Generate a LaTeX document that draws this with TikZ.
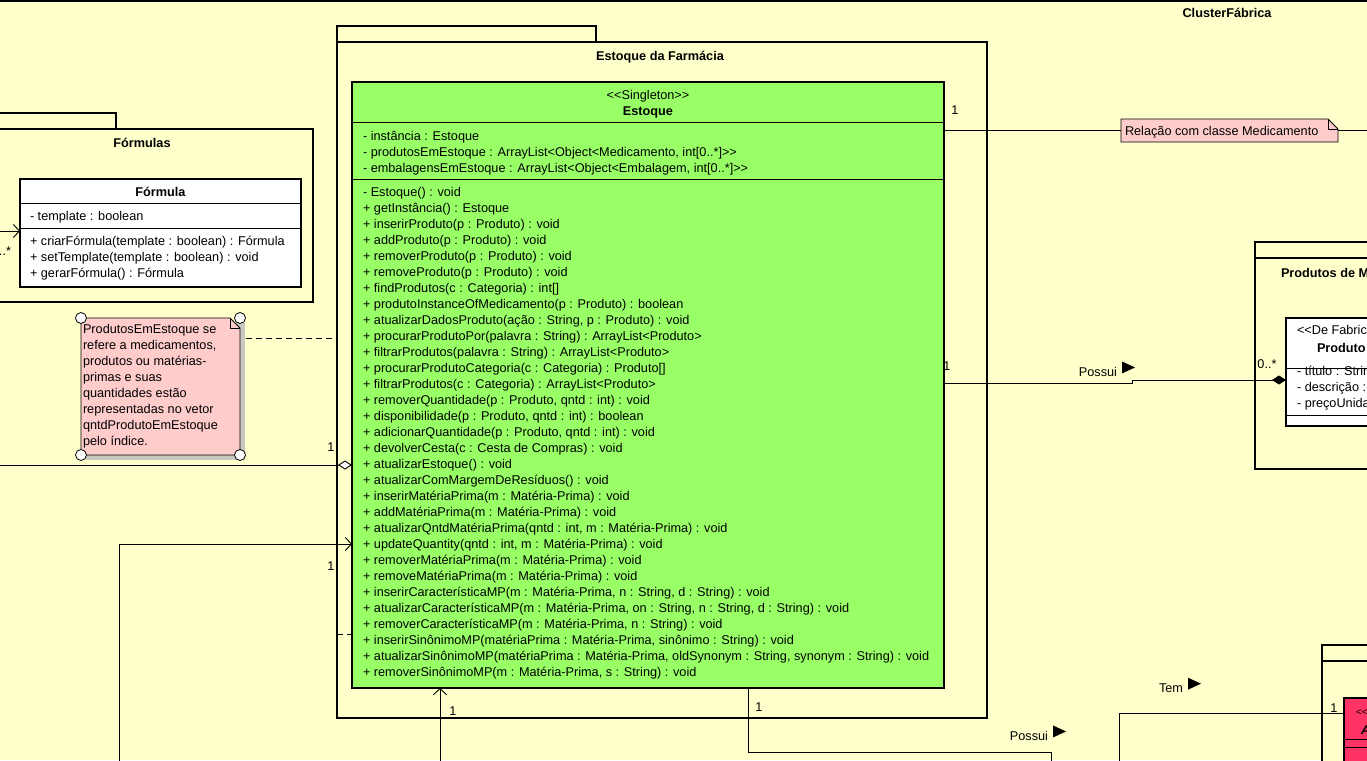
\documentclass[tikz,border=0pt]{standalone}
\usepackage{fontspec}
\setmainfont{Liberation Sans}
\usetikzlibrary{arrows.meta}
\definecolor{bg}{HTML}{FFFFCC}
\definecolor{grn}{HTML}{99FF66}
\definecolor{notec}{HTML}{FFCCCC}
\definecolor{redc}{HTML}{FF3366}
\definecolor{shad}{HTML}{C8C8C0}
\newcommand\umlfont{\fontsize{12.7}{16}\selectfont}
\begin{document}
\begin{tikzpicture}[x=1pt,y=-1pt,
  every node/.style={font=\umlfont, inner sep=0pt, outer sep=0pt},
  txt/.style={anchor=base west},
  ctxt/.style={anchor=base},
  bold/.style={font=\umlfont\bfseries},
  pkgbox/.style={draw, line width=2.4pt, fill=bg, anchor=north west},
  clsbox/.style={draw, line width=2pt, anchor=north west},
  conn/.style={line width=0.9pt},
  openarr/.style={-{Straight Barb[length=6pt,width=13pt,line width=0.9pt]}},
  hdiam/.style={-{Diamond[length=14pt,width=9pt,fill=white,line width=0.9pt]}},
  fdiam/.style={-{Diamond[length=14pt,width=9pt]}},
  tri/.pic={\fill (0,-6) -- (0,6) -- (13,0) -- cycle;},
  handle/.style={circle, draw, fill=white, line width=0.8pt, minimum size=11pt}
]
\clip (0,0) rectangle (1367,760);
\fill[bg] (0,0) rectangle (1367,760);
\draw[line width=2.4pt] (0,0.5) -- (1367,0.5);
\node[bold, ctxt] (cluster) at (1227,18) {ClusterFábrica};

% ---------- Fórmulas package
\node[pkgbox, minimum width=136, minimum height=16] (ftab) at (-20,113) {};
\node[pkgbox, minimum width=333, minimum height=173] (fpkg) at (-20,129) {};
\node[bold, ctxt] (ftitle) at (142,147) {Fórmulas};
\node[clsbox, fill=white, minimum width=281, minimum height=108] (fcls) at (20,179) {};
\draw[conn] (fcls.west |- 0,203) -- (fcls.east |- 0,203);
\draw[conn] (fcls.west |- 0,228) -- (fcls.east |- 0,228);
\node[bold, ctxt] (fname) at (160.5,196) {Fórmula};
\node[txt] (fa1) at (30,220) {- template : boolean};
\node[txt] (fm1) at (30,245) {+ criarFórmula(template : boolean) : Fórmula};
\node[txt] (fm2) at (30,261) {+ setTemplate(template : boolean) : void};
\node[txt] (fm3) at (30,277) {+ gerarFórmula() : Fórmula};
\coordinate (fin) at (-5,231);
\draw[conn, openarr] (fin) -- (fin -| fcls.west);
\node[anchor=base east] (fmult) at (11,255) {0..*};

% ---------- Estoque da Farmácia package
\node[pkgbox, minimum width=259, minimum height=16] (etab) at (337,26) {};
\node[pkgbox, minimum width=650, minimum height=676] (epkg) at (337,42) {};
\node[bold, ctxt] (etitle) at (660,60) {Estoque da Farmácia};
\node[clsbox, fill=grn, minimum width=592, minimum height=606] (est) at (352,82) {};
\draw[conn] (est.west |- 0,122) -- (est.east |- 0,122);
\draw[conn] (est.west |- 0,179) -- (est.east |- 0,179);
\node[ctxt] (estst) at (648,99) {<{}<Singleton>{}>};
\node[bold, ctxt] (estname) at (648,115) {Estoque};
\foreach \t [count=\i] in {
  {- instância : Estoque},
  {- produtosEmEstoque : ArrayList<Object<Medicamento, int[0..*]>{}>},
  {- embalagensEmEstoque : ArrayList<Object<Embalagem, int[0..*]>{}>}}
  \node[txt] (ea\i) at (363,124+16*\i) {\t};
\foreach \t [count=\i] in {
  {- Estoque() : void},
  {+ getInstância() : Estoque},
  {+ inserirProduto(p : Produto) : void},
  {+ addProduto(p : Produto) : void},
  {+ removerProduto(p : Produto) : void},
  {+ removeProduto(p : Produto) : void},
  {+ findProdutos(c : Categoria) : int[]},
  {+ produtoInstanceOfMedicamento(p : Produto) : boolean},
  {+ atualizarDadosProduto(ação : String, p : Produto) : void},
  {+ procurarProdutoPor(palavra : String) : ArrayList<Produto>},
  {+ filtrarProdutos(palavra : String) : ArrayList<Produto>},
  {+ procurarProdutoCategoria(c : Categoria) : Produto[]},
  {+ filtrarProdutos(c : Categoria) : ArrayList<Produto>},
  {+ removerQuantidade(p : Produto, qntd : int) : void},
  {+ disponibilidade(p : Produto, qntd : int) : boolean},
  {+ adicionarQuantidade(p : Produto, qntd : int) : void},
  {+ devolverCesta(c : Cesta de Compras) : void},
  {+ atualizarEstoque() : void},
  {+ atualizarComMargemDeResíduos() : void},
  {+ inserirMatériaPrima(m : Matéria-Prima) : void},
  {+ addMatériaPrima(m : Matéria-Prima) : void},
  {+ atualizarQntdMatériaPrima(qntd : int, m : Matéria-Prima) : void},
  {+ updateQuantity(qntd : int, m : Matéria-Prima) : void},
  {+ removerMatériaPrima(m : Matéria-Prima) : void},
  {+ removeMatériaPrima(m : Matéria-Prima) : void},
  {+ inserirCaracterísticaMP(m : Matéria-Prima, n : String, d : String) : void},
  {+ atualizarCaracterísticaMP(m : Matéria-Prima, on : String, n : String, d : String) : void},
  {+ removerCaracterísticaMP(m : Matéria-Prima, n : String) : void},
  {+ inserirSinônimoMP(matériaPrima : Matéria-Prima, sinônimo : String) : void},
  {+ atualizarSinônimoMP(matériaPrima : Matéria-Prima, oldSynonym : String, synonym : String) : void},
  {+ removerSinônimoMP(m : Matéria-Prima, s : String) : void}}
  \node[txt] (em\i) at (363,180+16*\i) {\t};

% ---------- note
\fill[shad] (86,323) -- (245,323) -- (245,460) -- (86,460) -- cycle;
\node[minimum width=159, minimum height=137, anchor=north west] (note1) at (81,318) {};
\draw[fill=notec, line width=0.9pt] (note1.north west) -- ([xshift=-10pt]note1.north east) -- ([yshift=-10pt]note1.north east) -- (note1.south east) -- (note1.south west) -- cycle;
\draw[line width=0.9pt] ([xshift=-10pt]note1.north east) -- ++(0,10) -- ([yshift=-10pt]note1.north east);
\foreach \t [count=\i] in {
  {ProdutosEmEstoque se},{refere a medicamentos,},{produtos ou matérias-},
  {primas e suas},{quantidades estão},{representadas no vetor},
  {qntdProdutoEmEstoque},{pelo índice.}}
  \node[txt] (nt\i) at (83,317+16*\i) {\t};
\foreach \a in {north west, north east, south west, south east}
  \node[handle] (h-\a) at (note1.\a) {};
\coordinate (d1) at (246,338);
\draw[conn, dashed, dash pattern=on 6pt off 4pt] (d1) -- (d1 -| epkg.west);
\coordinate (d2) at (337,634);
\draw[conn, dashed, dash pattern=on 6pt off 4pt] (d2) -- (d2 -| est.west);

% ---------- left connectors
\coordinate (l1) at (-5,465);
\draw[conn, hdiam] (l1) -- (l1 -| est.west);
\node[ctxt] (m1) at (331,451) {1};
\coordinate (l2) at (119,765);
\draw[conn, openarr] (l2) -- (119,544) -- (est.west |- 0,544);
\node[ctxt] (m2) at (331,570) {1};
\coordinate (l3) at (440,765);
\draw[conn, openarr] (l3) -- (l3 |- est.south);
\node[ctxt] (m3) at (453,715) {1};

% ---------- right: Relação note
\node[minimum width=217, minimum height=23, anchor=north west] (note2) at (1121,119) {};
\draw[fill=notec, line width=0.9pt] (note2.north west) -- ([xshift=-10pt]note2.north east) -- ([yshift=-10pt]note2.north east) -- (note2.south east) -- (note2.south west) -- cycle;
\draw[line width=0.9pt] ([xshift=-10pt]note2.north east) -- ++(0,10) -- ([yshift=-10pt]note2.north east);
\node[txt] (n2t) at (1125,135) {Relação com classe Medicamento};
\coordinate (r1) at (1375,130.5);
\draw[conn] (est.east |- note2.west) -- (note2.west);
\draw[conn] (note2.east) -- (r1);
\node[ctxt] (m4) at (955,114) {1};

% ---------- Produtos package
\node[pkgbox, minimum width=130, minimum height=16] (ptab) at (1255,242) {};
\node[pkgbox, minimum width=130, minimum height=211] (ppkg) at (1255,258) {};
\node[bold, txt] (ptitle) at (1281,277) {Produtos de M};
\node[clsbox, fill=white, minimum width=100, minimum height=108] (prod) at (1286,318) {};
\draw[conn] (prod.west |- 0,368) -- (1390,368);
\draw[conn] (prod.west |- 0,415) -- (1390,415);
\node[txt] (pst) at (1297,334) {<{}<De Fabric};
\node[bold, txt] (pname) at (1317,352) {Produto};
\node[txt] (pa1) at (1297,375) {- título : Strin};
\node[txt] (pa2) at (1297,391) {- descrição :};
\node[txt] (pa3) at (1297,407) {- preçoUnida};
\draw[conn, fdiam] (est.east |- 0,383) -- (1132,383) -- (1132,380) -- (prod.west |- 0,380);
\node[ctxt] (m5) at (947,370) {1};
\node[anchor=base east] (lp1) at (1117,376) {Possui};
\path (lp1.east) ++(5,-4) pic {tri};
\node[ctxt] (m6) at (1267,368) {0..*};

% ---------- bottom right package
\node[pkgbox, minimum width=60, minimum height=16] (btab) at (1322,645) {};
\node[pkgbox, minimum width=60, minimum height=120] (bpkg) at (1322,661) {};
\node[clsbox, fill=redc, minimum width=40, minimum height=80] (red) at (1344,698) {};
\draw[conn] (red.west |- 0,739) -- (1390,739);
\draw[conn] (red.west |- 0,747) -- (1390,747);
\node[txt, font=\fontsize{10}{10}\selectfont] (rst) at (1356,715) {<{}<};
\node[txt, font=\umlfont\bfseries\itshape] (rname) at (1361,734) {A};
\coordinate (t1) at (1119,765);
\draw[conn] (t1) -- (1119,713) -- (red.west |- 0,713);
\node[ctxt] (m7) at (1334,712) {1};
\node[anchor=base east] (lt) at (1183,692) {Tem};
\path (lt.east) ++(5,-4) pic {tri};

% ---------- bottom Possui
\coordinate (p1) at (748,688);
\coordinate (p2) at (1051,765);
\draw[conn] (p1) -- (748,752) -- (1051,752) -- (p2);
\node[ctxt] (m8) at (759,711) {1};
\node[anchor=base east] (lp2) at (1048,740) {Possui};
\path (lp2.east) ++(5,-4) pic {tri};
\end{tikzpicture}
\end{document}
